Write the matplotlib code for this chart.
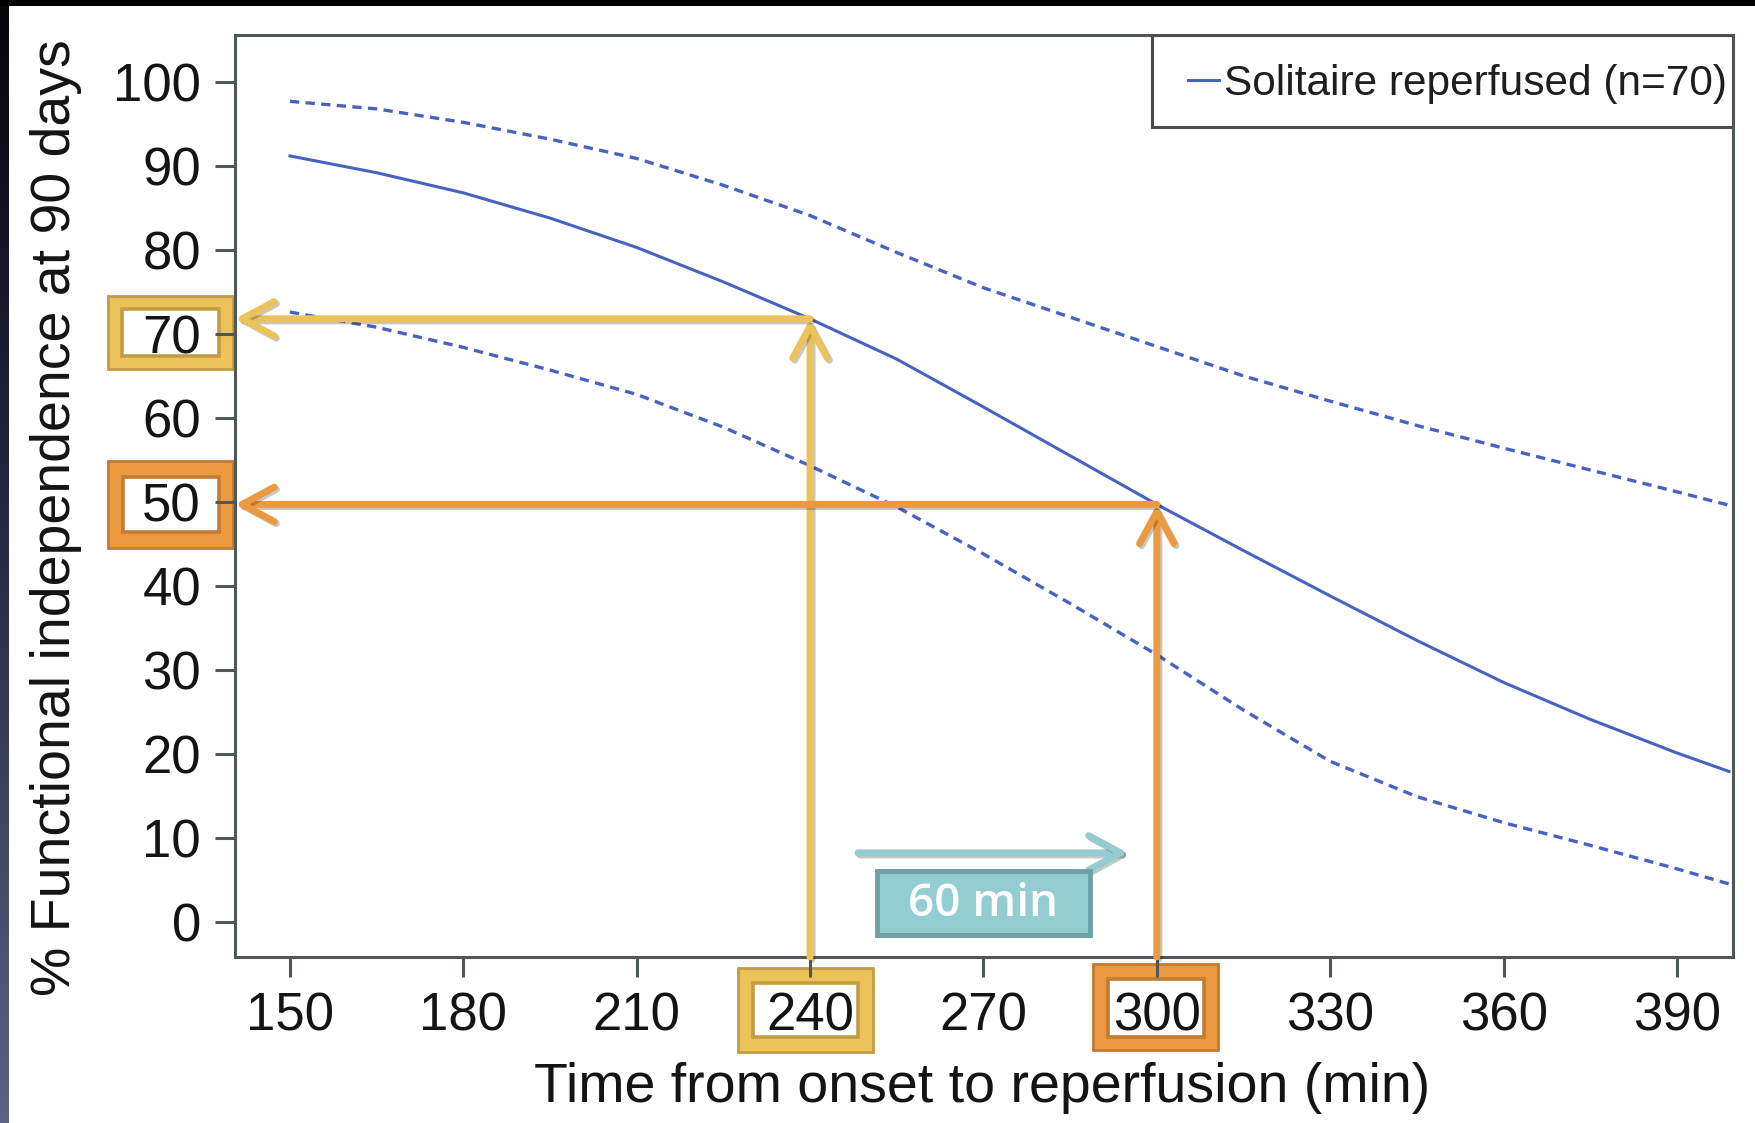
import numpy as np
import matplotlib
matplotlib.use("Agg")
import matplotlib.pyplot as plt
import matplotlib.patches as patches
import matplotlib.patheffects as pe
from matplotlib.colors import LinearSegmentedColormap
from matplotlib.lines import Line2D

plt.rcParams['font.family'] = ['Liberation Sans', 'DejaVu Sans']

# curve (min from onset -> % functional independence)
times = [150, 165, 180, 195, 210, 225, 240, 255, 270, 285, 300, 315, 330, 345, 360, 375, 390, 399]
fi_mean = [91.2, 89.2, 86.8, 83.8, 80.3, 76.2, 71.8, 67.0, 61.3, 55.5, 49.7, 44.2, 38.8, 33.5, 28.5, 24.1, 20.1, 17.9]
fi_upper = [97.7, 96.8, 95.2, 93.2, 90.9, 87.7, 84.1, 79.7, 75.5, 72.0, 68.5, 65.0, 62.0, 59.1, 56.4, 53.8, 51.2, 49.6]
fi_lower = [72.6, 70.8, 68.4, 65.7, 62.8, 58.9, 54.3, 49.4, 43.8, 37.9, 31.8, 25.2, 19.1, 14.9, 11.8, 9.1, 6.3, 4.5]

legend_label = "Solitaire reperfused (n=70)"
x_ticks = [150, 180, 210, 240, 270, 300, 330, 360, 390]
y_ticks = [0, 10, 20, 30, 40, 50, 60, 70, 80, 90, 100]

# highlighted read-outs
marked_times = [240, 300]
marked_pct = [71.8, 49.7]
marked_light = ["#EBC35A", "#EC9A40"]
marked_dark = ["#C19C42", "#C47B31"]
delay_label = "60 min"

BLUE = "#4862C2"
SPINE = "#4e5858"
TEAL = "#93CCD1"
TEAL_DARK = "#6FA0A5"

W, H = 1756, 1123
fig = plt.figure(figsize=(W / 100, H / 100), dpi=100)
fig.patch.set_facecolor("black")

# slide background: white page with dark left strip
fig.add_artist(patches.Rectangle((9 / W, 0), 1, 1 - 6 / H, transform=fig.transFigure,
                                 facecolor="white", edgecolor="none", zorder=-10))
gax = fig.add_axes([0, 0, 9 / W, 1 - 6 / H], zorder=-5)
strip = LinearSegmentedColormap.from_list("strip", ["#05050a", "#2a2a48", "#5d6282"])
gax.imshow(np.linspace(0, 1, 256).reshape(-1, 1), aspect="auto", cmap=strip)
gax.axis("off")

ax = fig.add_axes([235 / W, 1 - 957 / H, 1498 / W, 922 / H])
ax.set_facecolor("white")

ax.plot(times, fi_upper, color=BLUE, lw=2.4, ls=(0, (2.8, 1.9)), zorder=2)
ax.plot(times, fi_lower, color=BLUE, lw=2.4, ls=(0, (2.8, 1.9)), zorder=2)
ax.plot(times, fi_mean, color=BLUE, lw=2.2, zorder=2)

ax.set_xlim(140.5, 399.7)
ax.set_ylim(-4.2, 105.6)
ax.set_xticks(x_ticks)
ax.set_yticks(y_ticks)
for s in ax.spines.values():
    s.set_color(SPINE)
    s.set_linewidth(2.2)
ax.tick_params(axis="both", length=14.5, width=2.2, color=SPINE, labelsize=38,
               labelcolor="#141414", pad=10)

ax.set_xlabel("Time from onset to reperfusion (min)", fontsize=40, color="#141414", va="baseline")
ax.xaxis.set_label_coords(0.4987, -0.157)
ax.set_ylabel("% Functional independence at 90 days", fontsize=40, color="#141414", va="center")
ax.yaxis.set_label_coords(-0.1195, 0.477)

# legend box spanning the top right corner
ax.add_patch(patches.Rectangle((0.612, 0.9), 0.388, 0.1, transform=ax.transAxes,
                               facecolor="white", edgecolor="#4a4a4a", lw=2.2, zorder=5))
leg = ax.legend([Line2D([], [], color=BLUE, lw=2.2)], [legend_label], frameon=False,
                loc="center right", bbox_to_anchor=(0.996, 0.947), borderpad=0,
                borderaxespad=0, handlelength=0.72, handletextpad=0.12, fontsize=30.5)
leg.set_zorder(6)
for t in leg.get_texts():
    t.set_color("#1e1e1e")

shadow = [pe.SimpleLineShadow(offset=(1.5, -1.5), shadow_color="k", alpha=0.22), pe.Normal()]


def arrow(x0, y0, x1, y1, color):
    ax.annotate("", xy=(x1, y1), xytext=(x0, y0),
                arrowprops=dict(arrowstyle="->,head_length=1.15,head_width=0.62",
                                mutation_scale=20, lw=5, color=color, shrinkA=0, shrinkB=0,
                                capstyle="round", joinstyle="round",
                                path_effects=shadow),
                zorder=4, annotation_clip=False)


ymin = ax.get_ylim()[0]
xmin = ax.get_xlim()[0]
for t, p, c in zip(marked_times, marked_pct, marked_light):
    arrow(t, ymin, t, p, c)
    arrow(t, p, xmin, p, c)

# double-line boxes around the highlighted tick labels (figure pixel extents)
hl_boxes = [
    ((108, 296, 233, 369), (122, 309, 219, 356), 0),   # 70
    ((108, 461, 233, 548), (123, 477, 219, 532), 1),   # 50
    ((738, 968, 873, 1052), (753, 983, 858, 1037), 0),  # 240
    ((1093, 964, 1218, 1050), (1108, 979, 1204, 1037), 1),  # 300
]
for outer, inner, k in hl_boxes:
    for (x0, y0, x1, y1), fc, lw in ((outer, marked_light[k], 2.0), (inner, "white", 2.6)):
        fig.add_artist(patches.Rectangle((x0 / W, 1 - y1 / H), (x1 - x0) / W, (y1 - y0) / H,
                                         transform=fig.transFigure, facecolor=fc,
                                         edgecolor=marked_dark[k], lw=lw, zorder=-1))

# 60 min arrow and label box
arrow(248.3, 8.2, 295.0, 8.2, TEAL)
ax.add_patch(patches.Rectangle((251.5, -1.6), 36.9, 7.6, facecolor=TEAL, edgecolor=TEAL_DARK,
                               lw=3.5, zorder=4, clip_on=False))
ax.text(270.0, 2.0, delay_label, color="white", fontsize=33, fontweight="semibold",
        family=["Open Sans", "DejaVu Sans"], ha="center", va="center", zorder=5)

fig.savefig("out.png", dpi=100, facecolor=fig.get_facecolor())
